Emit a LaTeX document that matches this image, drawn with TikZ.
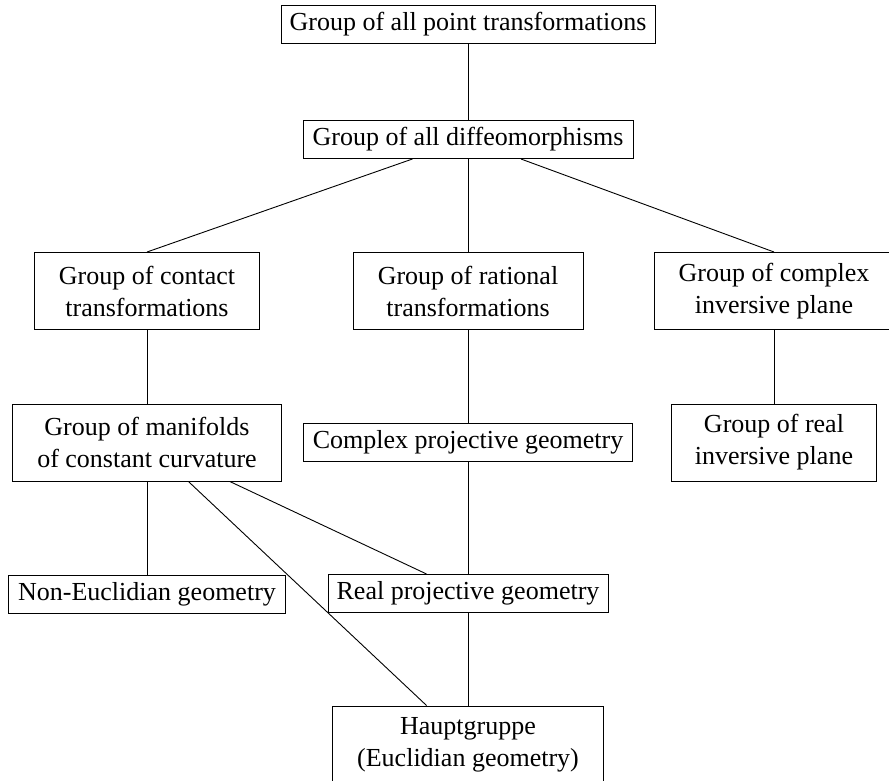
\documentclass[tikz,border=0pt]{standalone}
\usepackage{fontspec}
\setmainfont{Liberation Serif}
\begin{document}
\begin{tikzpicture}[x=1pt,y=-1pt,
  box/.style={draw, line width=1pt, inner sep=0pt, align=center, font=\fontsize{26}{32}\selectfont},
  one/.style={box, minimum height=38pt},
  two/.style={box, minimum height=77pt},
  link/.style={line width=0.9pt}]
\useasboundingbox (0,0) rectangle (889,780);
\node[one, minimum width=374pt] (b1) at (468,24.5) {Group of all point transformations};
\node[one, minimum width=330pt] (b2) at (468,139.5) {Group of all diffeomorphisms};
\node[two, minimum width=225pt] (b3) at (147,291) {Group of contact\\transformations};
\node[two, minimum width=230pt] (b4) at (468,291) {Group of rational\\transformations};
\node[two, minimum width=240pt] (b5) at (774,291) {Group of complex\\inversive plane};
\node[two, minimum width=269pt] (b6) at (147,442.5) {Group of manifolds\\of constant curvature};
\node[one, minimum width=329pt] (b7) at (468,442) {Complex projective geometry};
\node[two, minimum width=205pt] (b8) at (774,442.5) {Group of real\\inversive plane};
\node[one, minimum width=277pt] (b9) at (147,594) {Non-Euclidian geometry};
\node[one, minimum width=280pt] (b10) at (468,593.5) {Real projective geometry};
\node[two, minimum width=271pt] (b11) at (468,744.5) {Hauptgruppe\\(Euclidian geometry)};
\draw[link] (b1) -- (b2);
\draw[link] (b2) -- (b3.north);
\draw[link] (b2) -- (b4);
\draw[link] (b2) -- (b5.north);
\draw[link] (b3) -- (b6);
\draw[link] (b4) -- (b7);
\draw[link] (b5) -- (b8);
\draw[link] (b6) -- (b9);
\draw[link] (b6) -- (b10);
\draw[link] (b6) -- (b11);
\draw[link] (b7) -- (b10);
\draw[link] (b10) -- (b11);
\end{tikzpicture}
\end{document}
